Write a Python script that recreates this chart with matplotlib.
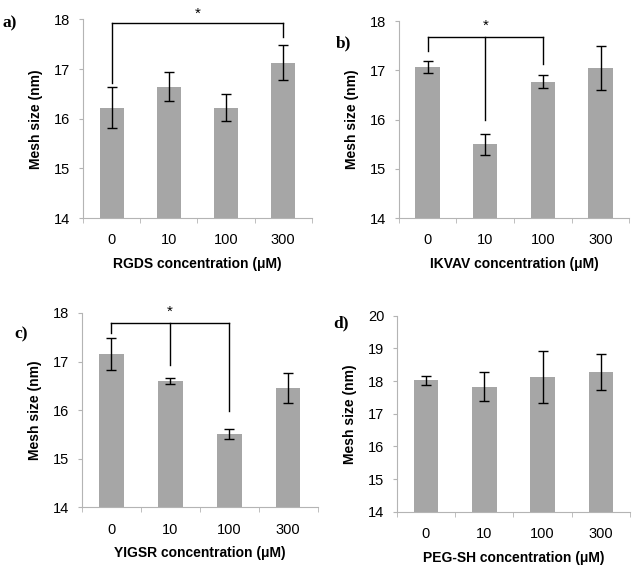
import matplotlib
matplotlib.use("Agg")
import matplotlib.pyplot as plt
import numpy as np

plt.rcParams["font.family"] = ["Liberation Sans", "DejaVu Sans"]

categories = ["0", "10", "100", "300"]

rgds_mean = [16.22, 16.64, 16.22, 17.13]
rgds_err = [0.41, 0.29, 0.27, 0.35]

ikvav_mean = [17.06, 15.50, 16.77, 17.04]
ikvav_err = [0.12, 0.21, 0.13, 0.45]

yigsr_mean = [17.15, 16.60, 15.51, 16.45]
yigsr_err = [0.33, 0.06, 0.11, 0.31]

pegsh_mean = [18.02, 17.83, 18.13, 18.28]
pegsh_err = [0.15, 0.44, 0.80, 0.56]

BAR = "#a6a6a6"
SPINE = "#b4b4b4"

fig = plt.figure(figsize=(6.39, 5.68), dpi=100)


def panel(rect, means, errs, xlabel, ylim, tag, tag_xy):
    ax = fig.add_axes(rect)
    x = np.arange(len(categories))
    ax.bar(x, means, width=0.42, color=BAR, zorder=2)
    ax.errorbar(x, means, yerr=errs, fmt="none", ecolor="black",
                elinewidth=1, capsize=3.6, capthick=1, zorder=3)
    ax.set_xlim(-0.5, len(categories) - 0.5)
    ax.set_ylim(*ylim)
    ax.set_yticks(np.arange(ylim[0], ylim[1] + 1))
    ax.set_xticks(x)
    ax.set_xticklabels(categories)
    ax.set_xticks(np.arange(-0.5, len(categories)), minor=True)
    ax.tick_params(axis="x", which="major", length=0, pad=11, labelsize=10.5)
    ax.tick_params(axis="x", which="minor", length=3.5, color=SPINE, direction="out")
    ax.tick_params(axis="y", length=3, color=SPINE, labelsize=10.5, pad=6)
    for s in ("top", "right"):
        ax.spines[s].set_visible(False)
    for s in ("left", "bottom"):
        ax.spines[s].set_color(SPINE)
    ax.set_xlabel(xlabel, fontsize=10, fontweight="bold", labelpad=7)
    ax.set_ylabel("Mesh size (nm)", fontsize=10, fontweight="bold", labelpad=8)
    fig.text(tag_xy[0], tag_xy[1], tag, fontsize=12.5, fontweight="bold",
             family="Liberation Serif", ha="left", va="center")
    return ax


def bracket(ax, y, drops, star_x, star_y):
    xs = [d[0] for d in drops]
    ax.plot([min(xs), max(xs)], [y, y], color="black", lw=1, clip_on=False, zorder=4)
    for xd, yd in drops:
        ax.plot([xd, xd], [y, yd], color="black", lw=1, clip_on=False, zorder=4)
    ax.text(star_x, star_y, "*", ha="center", va="center", fontsize=11,
            clip_on=False)


ax_a = panel([0.130, 0.616, 0.358, 0.350], rgds_mean, rgds_err,
             "RGDS concentration (\u03bcM)", (14, 18), "a)", (0.004, 0.958))
bracket(ax_a, 17.93, [(0, 16.72), (3, 17.64)], 1.5, 18.12)

ax_b = panel([0.624, 0.616, 0.361, 0.347], ikvav_mean, ikvav_err,
             "IKVAV concentration (\u03bcM)", (14, 18), "b)", (0.525, 0.924))
bracket(ax_b, 17.68, [(0, 17.39), (1, 16.0), (2, 17.12)], 1, 17.9)

ax_c = panel([0.128, 0.107, 0.369, 0.342], yigsr_mean, yigsr_err,
             "YIGSR concentration (\u03bcM)", (14, 18), "c)", (0.022, 0.412))
bracket(ax_c, 17.79, [(0, 17.58), (1, 16.93), (2, 15.99)], 1, 18.02)

ax_d = panel([0.621, 0.099, 0.365, 0.345], pegsh_mean, pegsh_err,
             "PEG-SH concentration (\u03bcM)", (14, 20), "d)", (0.522, 0.431))

fig.savefig("out.png", dpi=100)
